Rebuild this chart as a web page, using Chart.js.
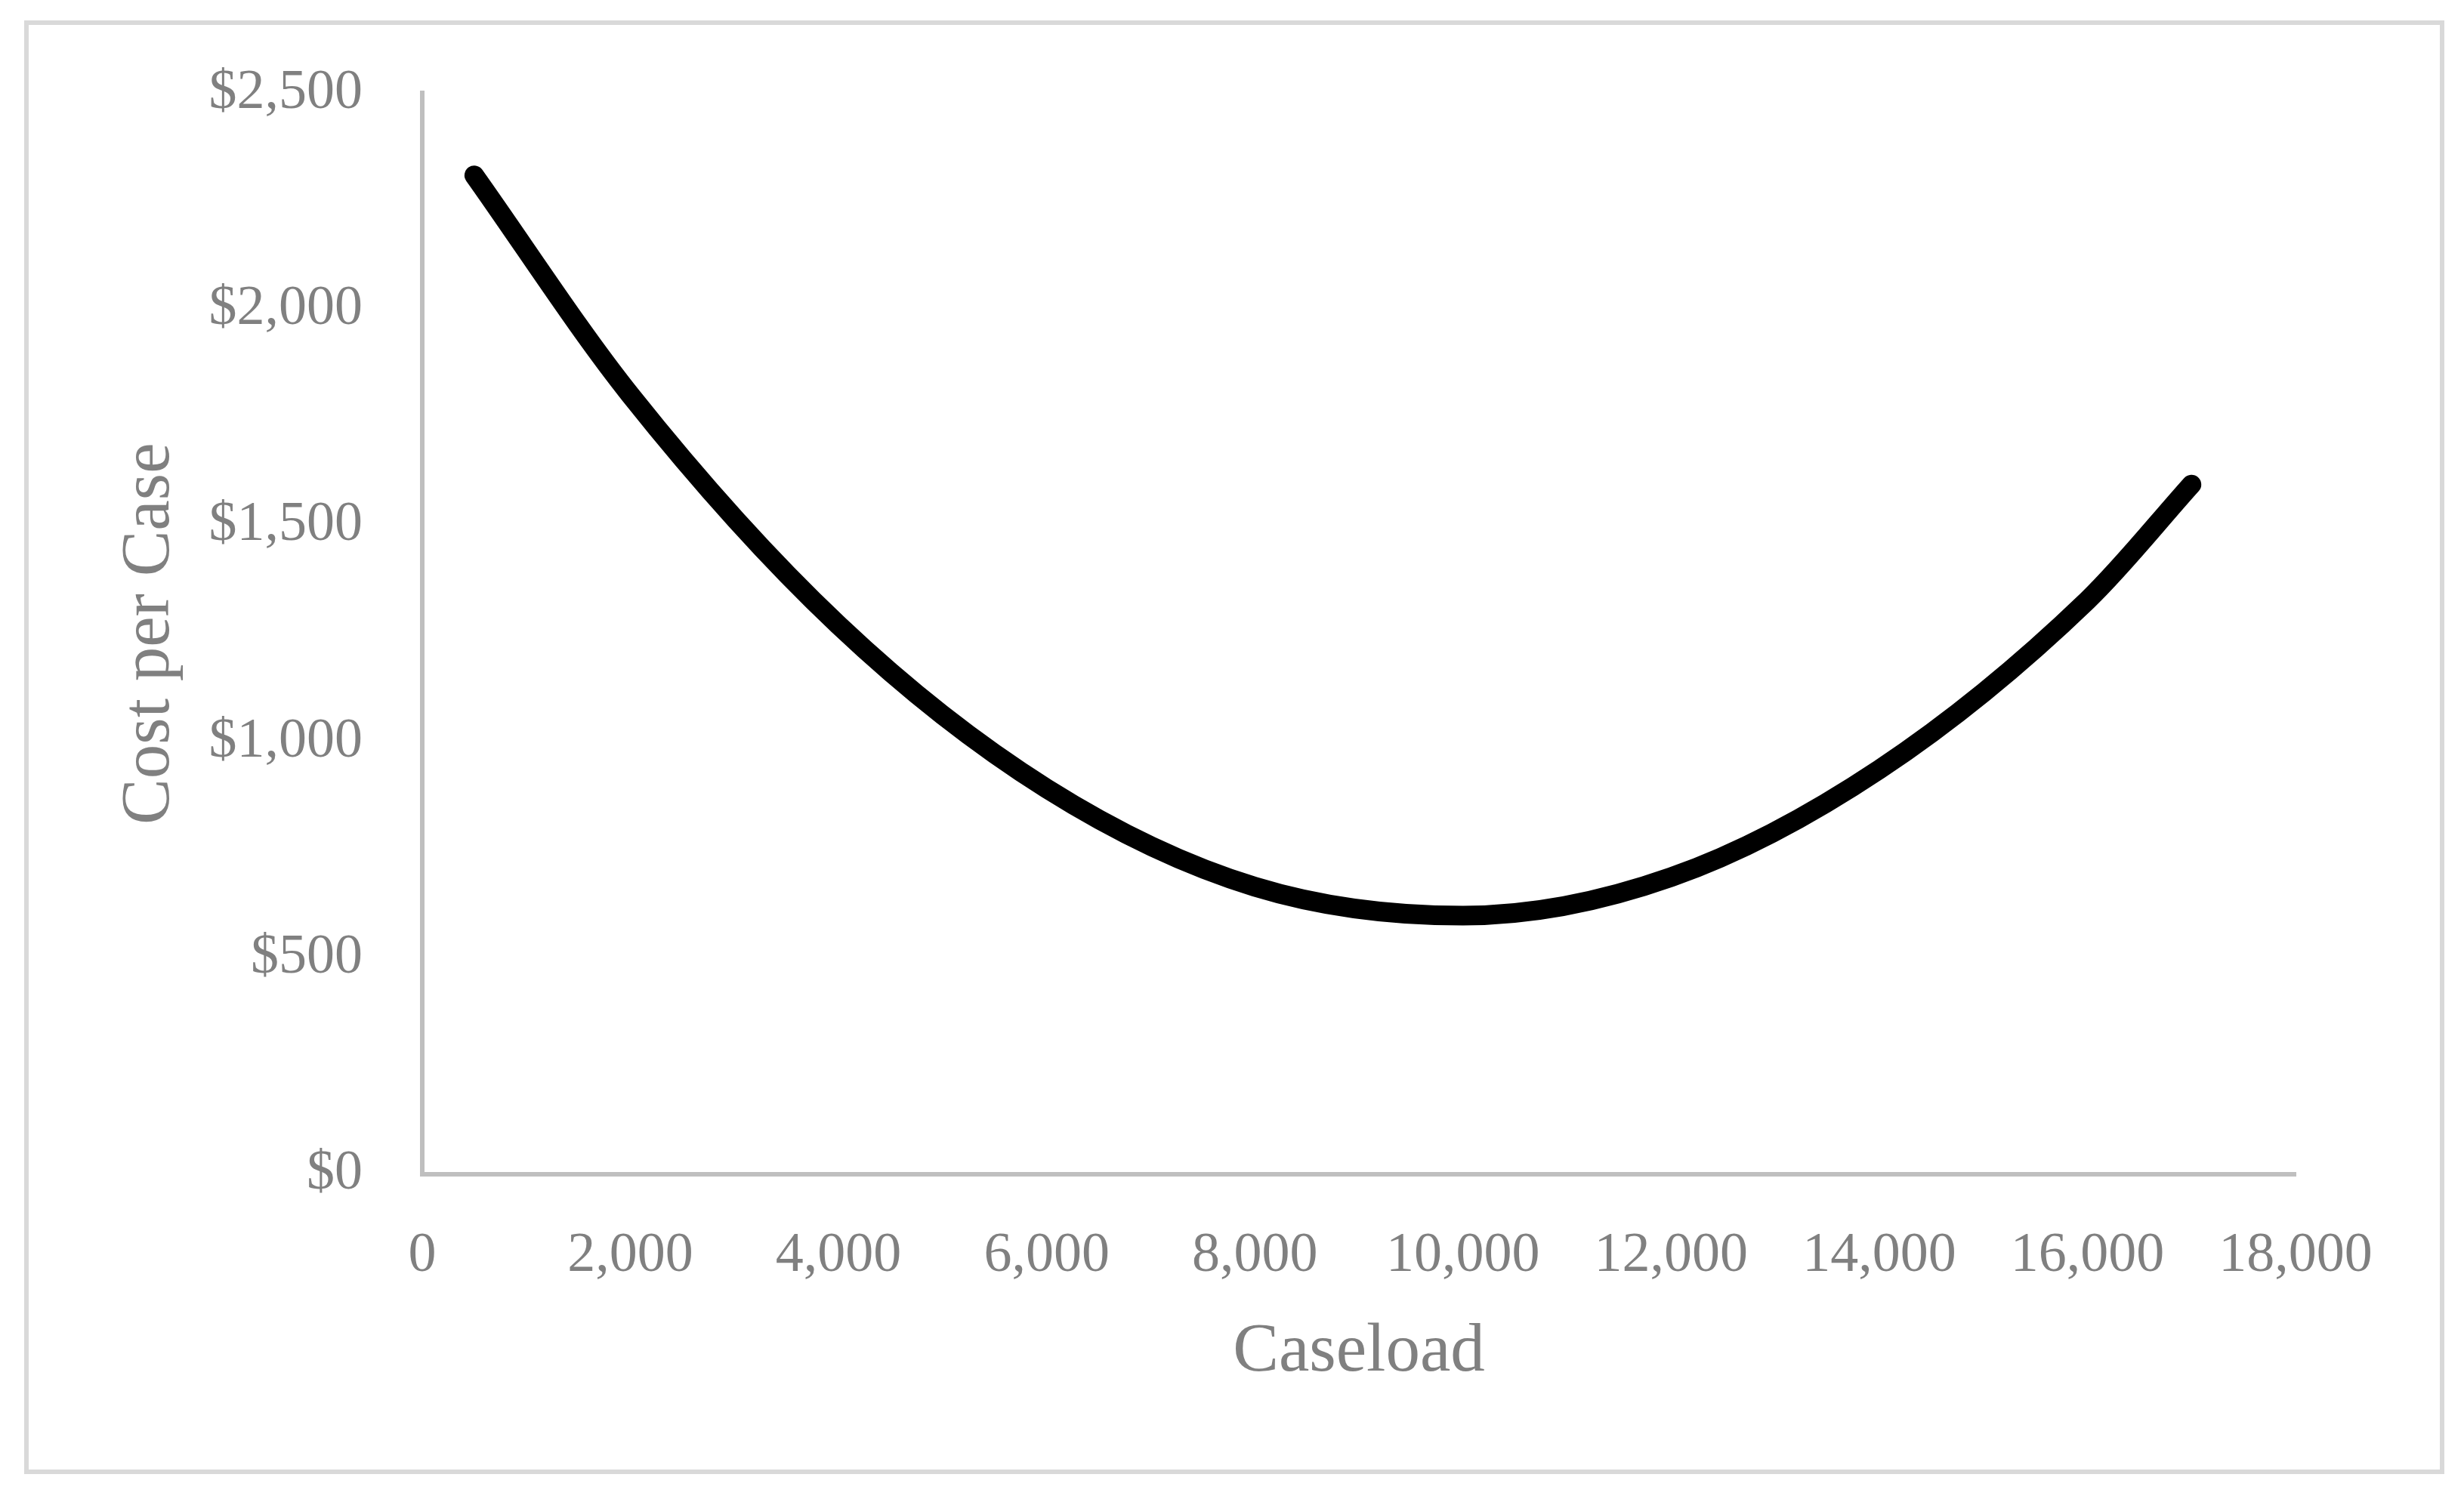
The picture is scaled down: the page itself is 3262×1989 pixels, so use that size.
<!DOCTYPE html>
<html>
<head>
<meta charset="utf-8">
<title>Cost per Case vs Caseload</title>
<script src="https://cdn.jsdelivr.net/npm/chart.js@4/dist/chart.umd.min.js"></script>
<style>
  html, body { margin: 0; padding: 0; background: #fff; overflow: hidden; }
  #wrap { position: relative; width: 3262px; height: 1989px; }
  #costChart { display: block; position: absolute; left: 0; top: 0; }
  #frame {
    position: absolute; left: 32px; top: 27px; width: 3204px; height: 1925px;
    box-sizing: border-box; border: 6px solid #d9d9d9; pointer-events: none;
  }
</style>
</head>
<body>
<div id="wrap">
  <canvas id="costChart" width="3262" height="1989"></canvas>
  <div id="frame"></div>
</div>
<script>
// values
const caseload = [500, 2000, 4000, 6000, 8000, 10000, 12000, 14000, 16000, 17000];
const costPerCase = [2310, 1802, 1270, 892, 665, 598, 687, 936, 1327, 1595];

const xTicks = [0, 2000, 4000, 6000, 8000, 10000, 12000, 14000, 16000, 18000];
const yTicks = [0, 500, 1000, 1500, 2000, 2500];

const fontFamily = '"Liberation Serif", "Times New Roman", serif';
const textColor = '#808080';
const axisColor = '#bfbfbf';

const points = caseload.map((x, i) => ({ x: x, y: costPerCase[i] }));

const ctx = document.getElementById('costChart').getContext('2d');
const chart = new Chart(ctx, {
  type: 'line',
  data: {
    datasets: [{
      data: points,
      borderColor: '#000000',
      borderWidth: 26,
      borderCapStyle: 'round',
      borderJoinStyle: 'round',
      pointRadius: 0,
      cubicInterpolationMode: 'monotone',
      fill: false
    }]
  },
  options: {
    responsive: false,
    animation: false,
    layout: { padding: { left: 0, top: 118, right: 223, bottom: 0 } },
    plugins: {
      legend: { display: false },
      tooltip: { enabled: false }
    },
    scales: {
      x: {
        type: 'linear',
        min: xTicks[0],
        max: xTicks[xTicks.length - 1],
        afterBuildTicks: (scale) => { scale.ticks = xTicks.map(v => ({ value: v })); },
        afterFit: (scale) => { scale.height = 434; },
        grid: { display: false, drawTicks: false },
        border: { display: true, color: axisColor, width: 6 },
        ticks: {
          padding: 64,
          maxRotation: 0,
          autoSkip: false,
          color: textColor,
          font: { family: fontFamily, size: 74 },
          callback: (v) => v.toLocaleString('en-US')
        },
        title: {
          display: true,
          text: 'Caseload',
          color: textColor,
          font: { family: fontFamily, size: 91, lineHeight: 1 },
          padding: { top: 0, bottom: 152 }
        }
      },
      y: {
        type: 'linear',
        min: yTicks[0],
        max: yTicks[yTicks.length - 1],
        afterBuildTicks: (scale) => { scale.ticks = yTicks.map(v => ({ value: v })); },
        afterFit: (scale) => { scale.width = 559; },
        grid: { display: false, drawTicks: false },
        border: { display: true, color: axisColor, width: 6 },
        ticks: {
          padding: 79,
          color: textColor,
          font: { family: fontFamily, size: 74 },
          callback: (v) => '$' + v.toLocaleString('en-US')
        },
        title: {
          display: true,
          text: 'Cost per Case',
          color: textColor,
          font: { family: fontFamily, size: 91, lineHeight: 1 },
          padding: { top: 154, bottom: 0 }
        }
      }
    }
  }
});
</script>
</body>
</html>
